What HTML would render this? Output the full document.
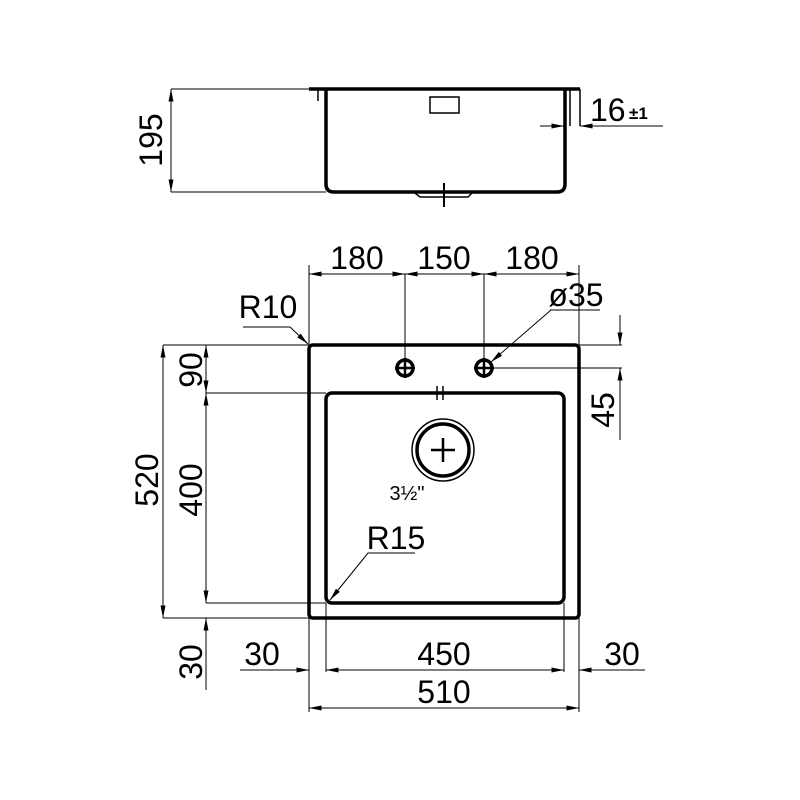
<!DOCTYPE html>
<html><head><meta charset="utf-8"><style>html,body{margin:0;padding:0;background:#fff}svg{display:block}</style></head>
<body>
<svg width="800" height="800" viewBox="0 0 800 800" xmlns="http://www.w3.org/2000/svg" font-family="Liberation Sans, sans-serif" fill="none" stroke="#000">
<defs>
<marker id="a" viewBox="0 0 10 4" refX="10" refY="2" markerWidth="14" markerHeight="5" markerUnits="userSpaceOnUse" orient="auto-start-reverse"><path d="M0,0 L10,2 L0,4z" fill="#000" stroke="none"/></marker>
</defs>
<g stroke-width="3.5">
<line x1="309" y1="89" x2="580" y2="89"/>
<path d="M326,90 V184 Q326,192 334,192 H557 Q565,192 565,184 V90"/>
</g>
<g stroke-width="1.5">
<line x1="318" y1="90" x2="318" y2="101"/>
<rect x="430" y="97" width="29" height="16"/>
<line x1="570" y1="90" x2="570" y2="126"/>
<line x1="580" y1="89" x2="580" y2="126"/>
<path d="M415,193 L420,197 H468 L472,193"/>
<line x1="444" y1="183" x2="444" y2="207" stroke-width="2"/>
<line x1="171" y1="89" x2="309" y2="89" stroke-width="1"/>
<line x1="171" y1="192" x2="326" y2="192" stroke-width="1"/>
<line x1="171" y1="89" x2="171" y2="192" stroke-width="1" marker-start="url(#a)" marker-end="url(#a)"/>
<line x1="540" y1="126" x2="564" y2="126" stroke-width="1" marker-end="url(#a)"/>
<line x1="663" y1="126" x2="580" y2="126" stroke-width="1" marker-end="url(#a)"/>
</g>
<g fill="#000" stroke="none" font-size="32">
<text transform="translate(162,140) rotate(-90)" text-anchor="middle">195</text>
<text x="590" y="121">16</text>
<text x="629" y="119" font-size="17" font-weight="bold">±1</text>
</g>
<g stroke-width="3.5">
<rect x="309" y="345" width="270" height="273" rx="4"/>
<rect x="326" y="393" width="238" height="210" rx="6"/>
<circle cx="405" cy="368" r="8"/><circle cx="484" cy="368" r="8"/>
<circle cx="443" cy="450" r="26"/>
</g>
<g stroke-width="1.5">
<circle cx="443" cy="450" r="31"/>
<line x1="405" y1="358" x2="405" y2="378" stroke-width="2.5"/><line x1="395" y1="368" x2="415" y2="368" stroke-width="2.5"/>
<line x1="484" y1="358" x2="484" y2="378" stroke-width="2.5"/><line x1="474" y1="368" x2="494" y2="368" stroke-width="2.5"/>
<line x1="443" y1="438" x2="443" y2="462" stroke-width="2.5"/><line x1="431" y1="450" x2="455" y2="450" stroke-width="2.5"/>
<line x1="437" y1="386" x2="437" y2="400"/><line x1="443" y1="386" x2="443" y2="400"/><line x1="433" y1="393" x2="447" y2="393"/>
</g>
<g stroke-width="1">
<line x1="309" y1="265" x2="309" y2="345"/><line x1="579" y1="265" x2="579" y2="345"/>
<line x1="405" y1="274" x2="405" y2="360"/><line x1="484" y1="274" x2="484" y2="360"/>
<line x1="309" y1="274" x2="405" y2="274" marker-start="url(#a)" marker-end="url(#a)"/>
<line x1="405" y1="274" x2="484" y2="274" marker-start="url(#a)" marker-end="url(#a)"/>
<line x1="484" y1="274" x2="579" y2="274" marker-start="url(#a)" marker-end="url(#a)"/>
<polyline points="243,327 290,327 308,344" marker-end="url(#a)"/>
<line x1="550" y1="310" x2="600" y2="310"/>
<line x1="551" y1="310" x2="491" y2="362" marker-end="url(#a)"/>
<line x1="579" y1="345" x2="622" y2="345"/><line x1="490" y1="368" x2="622" y2="368"/>
<line x1="620" y1="315" x2="620" y2="345" marker-end="url(#a)"/>
<line x1="620" y1="440" x2="620" y2="368" marker-end="url(#a)"/>
<line x1="163" y1="345" x2="309" y2="345"/><line x1="163" y1="618" x2="309" y2="618"/>
<line x1="206" y1="393" x2="326" y2="393"/><line x1="206" y1="603" x2="326" y2="603"/>
<line x1="163" y1="345" x2="163" y2="618" marker-start="url(#a)" marker-end="url(#a)"/>
<line x1="206" y1="345" x2="206" y2="393" marker-start="url(#a)" marker-end="url(#a)"/>
<line x1="206" y1="393" x2="206" y2="603" marker-start="url(#a)" marker-end="url(#a)"/>
<line x1="206" y1="690" x2="206" y2="618" marker-end="url(#a)"/>
<line x1="309" y1="618" x2="309" y2="712"/><line x1="579" y1="618" x2="579" y2="712"/>
<line x1="326" y1="603" x2="326" y2="672"/><line x1="564" y1="603" x2="564" y2="672"/>
<line x1="240" y1="670" x2="309" y2="670" marker-end="url(#a)"/>
<line x1="326" y1="670" x2="564" y2="670" marker-start="url(#a)" marker-end="url(#a)"/>
<line x1="645" y1="670" x2="579" y2="670" marker-end="url(#a)"/>
<line x1="309" y1="708" x2="579" y2="708" marker-start="url(#a)" marker-end="url(#a)"/>
<polyline points="415,553 368,553 330,600" marker-end="url(#a)"/>
</g>
<g fill="#000" stroke="none" font-size="32" text-anchor="middle">
<text x="357" y="269">180</text><text x="444" y="269">150</text><text x="532" y="269">180</text>
<text x="268" y="318">R10</text>
<text x="576" y="306">ø35</text>
<text x="396" y="549">R15</text>
<text transform="translate(614,410) rotate(-90)">45</text>
<text transform="translate(158,480) rotate(-90)">520</text>
<text transform="translate(202,370) rotate(-90)">90</text>
<text transform="translate(202,490) rotate(-90)">400</text>
<text transform="translate(202,662) rotate(-90)">30</text>
<text x="262" y="665">30</text><text x="444" y="665">450</text><text x="622" y="665">30</text>
<text x="444" y="703">510</text>
<text x="407" y="500" font-size="20">3½"</text>
</g>
</svg>
</body></html>
